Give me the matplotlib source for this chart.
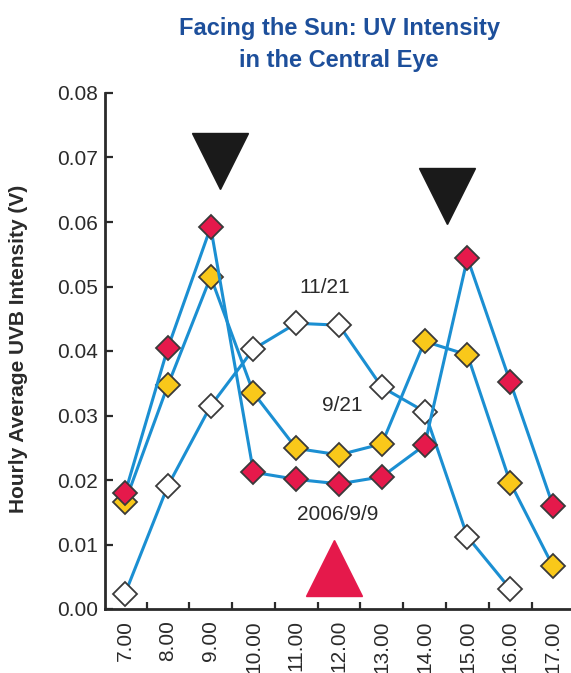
import matplotlib
matplotlib.use("Agg")
import matplotlib.pyplot as plt

plt.rcParams['font.family'] = ['Liberation Sans', 'DejaVu Sans']

hours = [7, 8, 9, 10, 11, 12, 13, 14, 15, 16, 17]
hour_labels = ['7.00', '8.00', '9.00', '10.00', '11.00', '12.00',
               '13.00', '14.00', '15.00', '16.00', '17.00']

uv_sep09 = [0.0180, 0.0405, 0.0592, 0.0212, 0.0201, 0.0194,
            0.0205, 0.0254, 0.0544, 0.0352, 0.0160]
uv_sep21 = [0.0166, 0.0347, 0.0515, 0.0335, 0.0249, 0.0239,
            0.0256, 0.0415, 0.0394, 0.0196, 0.0066]
uv_nov21 = [0.0024, 0.0191, 0.0315, 0.0403, 0.0443, 0.0440,
            0.0344, 0.0306, 0.0112, 0.0031]

series_labels = ['2006/9/9', '9/21', '11/21']

line_color = '#1b8fd2'
edge_color = '#3a3a3a'
text_color = '#2a2a2a'

fig = plt.figure(figsize=(5.71, 6.73), dpi=100)
ax = fig.add_axes([105 / 571, 64 / 673, 466 / 571, 516 / 673])

for ys, face in [(uv_nov21, 'white'), (uv_sep21, '#f9c81a'), (uv_sep09, '#e5194b')]:
    ax.plot(hours[:len(ys)], ys, color=line_color, lw=2.2, marker='D', ms=12.5,
            mfc=face, mec=edge_color, mew=1.3, clip_on=False, zorder=3)

# sun direction markers
ax.plot([9.22, 14.52], [0.0695, 0.0640], marker='v', ms=40, color='#1a1a1a',
        ls='none', clip_on=False)
ax.plot([11.87], [0.0063], marker='^', ms=40, color='#e5194b', ls='none',
        clip_on=False)

ax.text(11.67, 0.0498, series_labels[2], ha='center', va='center', fontsize=15, color=text_color)
ax.text(12.07, 0.0316, series_labels[1], ha='center', va='center', fontsize=15, color=text_color)
ax.text(11.97, 0.0147, series_labels[0], ha='center', va='center', fontsize=15, color=text_color)

ax.set_xlim(6.53, 17.42)
ax.set_ylim(0, 0.08)
ax.set_yticks([0.00, 0.01, 0.02, 0.03, 0.04, 0.05, 0.06, 0.07, 0.08])
ax.set_yticklabels(['0.00', '0.01', '0.02', '0.03', '0.04', '0.05', '0.06', '0.07', '0.08'])
ax.set_xticks(hours)
ax.set_xticklabels(hour_labels, rotation=90)
ax.set_xticks([h + 0.5 for h in hours[:-1]], minor=True)

ax.tick_params(axis='y', direction='in', length=6, width=1.6, labelsize=15,
               pad=5, colors=text_color)
ax.tick_params(axis='x', which='major', length=0, labelsize=15, pad=8,
               colors=text_color)
ax.tick_params(axis='x', which='minor', direction='in', length=5, width=1.6,
               colors=text_color)

for s in ['top', 'right']:
    ax.spines[s].set_visible(False)
for s in ['left', 'bottom']:
    ax.spines[s].set_linewidth(2)
    ax.spines[s].set_color(text_color)

fig.text(19 / 571, 1 - 349 / 673, 'Hourly Average UVB Intensity (V)',
         rotation=90, ha='center', va='center', fontsize=15,
         fontweight='bold', color=text_color)

fig.text(339 / 571, 1 - 35 / 673, 'Facing the Sun: UV Intensity',
         ha='center', va='baseline', fontsize=17, fontweight='bold', color='#1d4f9b')
fig.text(339 / 571, 1 - 67 / 673, 'in the Central Eye',
         ha='center', va='baseline', fontsize=17, fontweight='bold', color='#1d4f9b')

fig.savefig('out.png', dpi=100)
